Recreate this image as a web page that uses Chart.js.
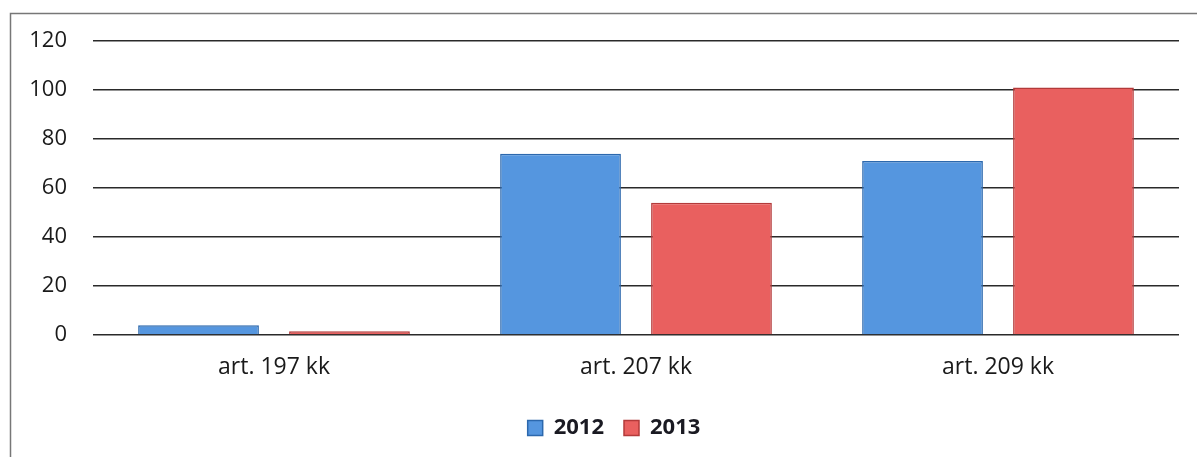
<!DOCTYPE html>
<html>
<head>
<meta charset="utf-8">
<script src="https://cdn.jsdelivr.net/npm/chart.js@4"></script>
<style>
  html, body { margin: 0; padding: 0; background: #fff; }
  #wrap { position: absolute; left: 0; top: 0; width: 1197px; height: 457px; }
</style>
</head>
<body>
<div id="wrap"><canvas id="chart"></canvas></div>
<script>
// ---------- Data ---------- //
const categories = ['art. 197 kk', 'art. 207 kk', 'art. 209 kk'];
const values2012 = [4, 74, 71];
const values2013 = [1.5, 54, 101];
const seriesNames = ['2012', '2013'];
const yTicks = [0, 20, 40, 60, 80, 100, 120];

// frame on the top and left edge (the rest is cropped in the scan)
const framePlugin = {
  id: 'frame',
  afterLayout(chart) {
    // the original chart was wider (cropped on the right), so its legend sits right of centre
    const lg = chart.legend;
    lg.left += 49;
    lg.width = lg.right - lg.left;
  },
  beforeDraw(chart) {
    const ctx = chart.ctx;
    ctx.save();
    ctx.strokeStyle = '#777';
    ctx.lineWidth = 1.5;
    ctx.beginPath();
    ctx.moveTo(10.5, 457);
    ctx.lineTo(10.5, 13.5);
    ctx.lineTo(1197, 13.5);
    ctx.stroke();
    ctx.restore();
  }
};

const ctx = document.getElementById('chart').getContext('2d');

new Chart(ctx, {
  type: 'bar',
  data: {
    labels: categories,
    datasets: [
      {
        label: seriesNames[0],
        data: values2012,
        backgroundColor: '#5596df',
        borderColor: '#2c68ad',
        borderWidth: 1.5,
        barPercentage: 0.8,
        categoryPercentage: 0.834
      },
      {
        label: seriesNames[1],
        data: values2013,
        backgroundColor: '#e9605f',
        borderColor: '#b33a3a',
        borderWidth: 1.5,
        barPercentage: 0.8,
        categoryPercentage: 0.834
      }
    ]
  },
  options: {
    responsive: true,
    maintainAspectRatio: false,
    animation: false,
    layout: { padding: { left: 0, right: 18, top: 41, bottom: 8 } },
    plugins: {
      tooltip: { enabled: false },
      legend: {
        position: 'bottom',
        labels: {
          color: '#1a1a22',
          font: { family: 'Open Sans', size: 22, weight: 'bold' },
          boxWidth: 15,
          boxHeight: 15,
          padding: 20
        }
      }
    },
    scales: {
      x: {
        grid: { display: false },
        border: { display: false },
        ticks: {
          color: '#1a1a1a',
          font: { family: 'Open Sans', size: 23 },
          padding: 11
        },
        afterFit(scale) { scale.height = 62; }
      },
      y: {
        min: 0,
        max: 120,
        afterBuildTicks(scale) { scale.ticks = yTicks.map(v => ({ value: v })); },
        afterFit(scale) { scale.width = 93; },
        grid: { color: '#2a2a2a', lineWidth: 1.5, drawTicks: false },
        border: { display: false },
        ticks: {
          color: '#1a1a1a',
          font: { family: 'Open Sans', size: 22 },
          padding: 26
        }
      }
    }
  },
  plugins: [framePlugin]
});
</script>
</body>
</html>
